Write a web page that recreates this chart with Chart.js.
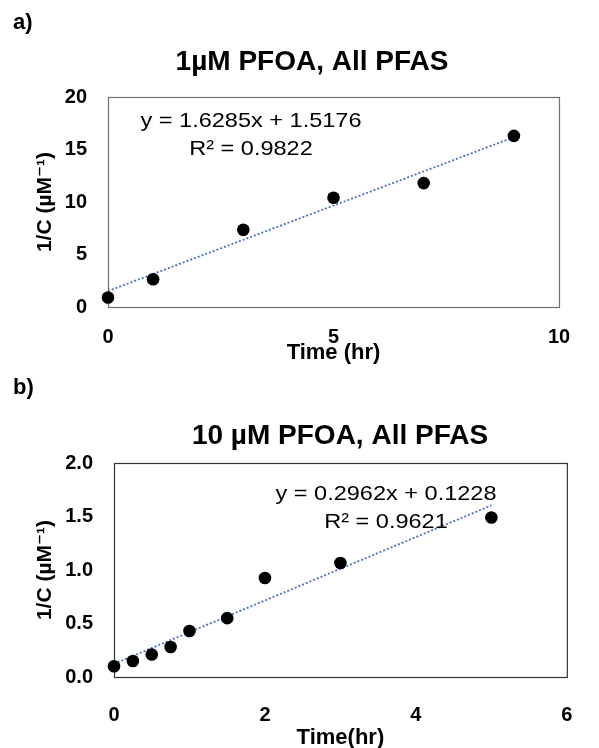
<!DOCTYPE html>
<html>
<head>
<meta charset="utf-8">
<script src="https://cdn.jsdelivr.net/npm/chart.js@4.4.0/dist/chart.umd.min.js"></script>
<style>
  body { margin: 0; background: #fff; width: 599px; height: 748px; position: relative; overflow: hidden;
         font-family: "Liberation Sans", Arial, sans-serif; }
  canvas { position: absolute; left: 0; }
  #chartA { top: 0; }
  #chartB { top: 372px; }
  .panel { position: absolute; left: 13px; font-weight: bold; font-size: 22px; line-height: 22px; color: #000; }
</style>
</head>
<body>
<canvas id="chartA" width="599" height="374"></canvas>
<canvas id="chartB" width="599" height="376"></canvas>
<div class="panel" style="top:11px">a)</div>
<div class="panel" style="top:376px">b)</div>
<script>
// panel a) 1 uM PFOA
const timeA = [0, 1, 3, 5, 7, 9];
const invCA = [0.9, 2.65, 7.35, 10.4, 11.8, 16.3];
const fitA = [1.6285, 1.5176]; // slope, intercept
const eqA = ['y = 1.6285x + 1.5176', 'R² = 0.9822'];
const xTicksA = [0, 5, 10];
const yTicksA = [0, 5, 10, 15, 20];

// panel b) 10 uM PFOA
const timeB = [0, 0.25, 0.5, 0.75, 1, 1.5, 2, 3, 5];
const invCB = [0.10, 0.15, 0.21, 0.28, 0.43, 0.55, 0.925, 1.065, 1.49];
const fitB = [0.2962, 0.1228];
const eqB = ['y = 0.2962x + 0.1228', 'R² = 0.9621'];
const xTicksB = [0, 2, 4, 6];
const yTicksB = [0, 0.5, 1, 1.5, 2];

const FONT = "'Liberation Sans', Arial, 'DejaVu Sans', sans-serif";

// box around the plot, title (not centred on the canvas in the original) and trendline equation
const frameAndLabel = {
  id: 'frameAndLabel',
  beforeDatasetsDraw(chart, args, opts) {
    const { ctx, chartArea: a } = chart;
    ctx.save();
    ctx.strokeStyle = opts.border;
    ctx.lineWidth = 1.2;
    ctx.strokeRect(a.left + 0.5, a.top + 0.5, a.width, a.height);
    ctx.restore();
  },
  afterDatasetsDraw(chart, args, opts) {
    const ctx = chart.ctx;
    ctx.save();
    ctx.fillStyle = '#000';
    ctx.textAlign = 'center';
    ctx.textBaseline = 'middle';
    ctx.font = 'bold 28px ' + FONT;
    ctx.fillText(opts.title, opts.titleAt[0], opts.titleAt[1]);
    ctx.font = '21px ' + FONT;
    opts.lines.forEach((txt, i) => {
      ctx.save();
      ctx.translate(opts.at[i][0], opts.at[i][1]);
      ctx.scale(1.12, 1);
      ctx.fillText(txt, 0, 0);
      ctx.restore();
    });
    ctx.restore();
  }
};

function makeChart(id, o) {
  const xmax = Math.max(...o.time);
  const trend = [
    { x: 0, y: o.fit[1] },
    { x: xmax, y: o.fit[0] * xmax + o.fit[1] }
  ];
  return new Chart(document.getElementById(id), {
    type: 'scatter',
    data: {
      datasets: [{
        data: o.time.map((t, i) => ({ x: t, y: o.inv[i] })),
        backgroundColor: '#000',
        borderWidth: 0,
        pointRadius: 6.3,
        clip: false
      }, {
        type: 'line',
        data: trend,
        borderColor: '#4a6fbf',
        borderWidth: 1.8,
        borderDash: [2, 2],
        pointRadius: 0,
        fill: false
      }]
    },
    options: {
      responsive: false,
      animation: false,
      layout: { padding: o.pad },
      plugins: {
        legend: { display: false },
        tooltip: { enabled: false },
        title: { display: false },
        frameAndLabel: { border: o.border, lines: o.eq, at: o.eqAt, title: o.title, titleAt: o.titleAt }
      },
      scales: {
        x: {
          type: 'linear',
          min: o.xTicks[0],
          max: o.xTicks[o.xTicks.length - 1],
          afterBuildTicks: s => { s.ticks = o.xTicks.map(v => ({ value: v })); },
          afterFit: s => { s.height = o.xHeight; },
          grid: { display: false, drawTicks: false },
          border: { display: false },
          ticks: {
            color: '#000', padding: o.xTickPad,
            font: { family: FONT, size: 20, weight: 'bold' },
            callback: v => v.toFixed(o.xDigits)
          },
          title: {
            display: true, text: o.xTitle, color: '#000',
            font: { family: FONT, size: 22, weight: 'bold', lineHeight: 1 },
            padding: { top: 0, bottom: o.xTitlePadB }
          }
        },
        y: {
          type: 'linear',
          min: o.yTicks[0],
          max: o.yTicks[o.yTicks.length - 1],
          afterBuildTicks: s => { s.ticks = o.yTicks.map(v => ({ value: v })); },
          afterFit: s => { s.width = o.yWidth; },
          grid: { display: false, drawTicks: false },
          border: { display: false },
          ticks: {
            color: '#000', padding: 21,
            font: { family: FONT, size: 20, weight: 'bold' },
            callback: v => v.toFixed(o.yDigits)
          },
          title: {
            display: true, text: '1/C (µM⁻¹)', color: '#000',
            font: { family: FONT, size: 21, weight: 'bold' },
            padding: { top: 33, bottom: 0 }
          }
        }
      }
    },
    plugins: [frameAndLabel]
  });
}

makeChart('chartA', {
  time: timeA, inv: invCA, fit: fitA, eq: eqA,
  eqAt: [[251, 121], [251, 149]],
  xTicks: xTicksA, yTicks: yTicksA, xDigits: 0, yDigits: 0,
  title: '1µM PFOA, All PFAS', titleAt: [312, 62], xTitle: 'Time (hr)',
  pad: { left: 0, right: 40, top: 97, bottom: 10 },
  xHeight: 57, xTickPad: 18.6, xTitlePadB: 0,
  yWidth: 108, border: '#707070'
});

makeChart('chartB', {
  time: timeB, inv: invCB, fit: fitB, eq: eqB,
  eqAt: [[386, 122], [386, 150]],
  xTicks: xTicksB, yTicks: yTicksB, xDigits: 0, yDigits: 1,
  title: '10 µM PFOA, All PFAS', titleAt: [340, 64], xTitle: 'Time(hr)',
  pad: { left: 0, right: 7, top: 91, bottom: 1 },
  xHeight: 70, xTickPad: 26.6, xTitlePadB: -2,
  yWidth: 114, border: '#333333'
});
</script>
</body>
</html>
